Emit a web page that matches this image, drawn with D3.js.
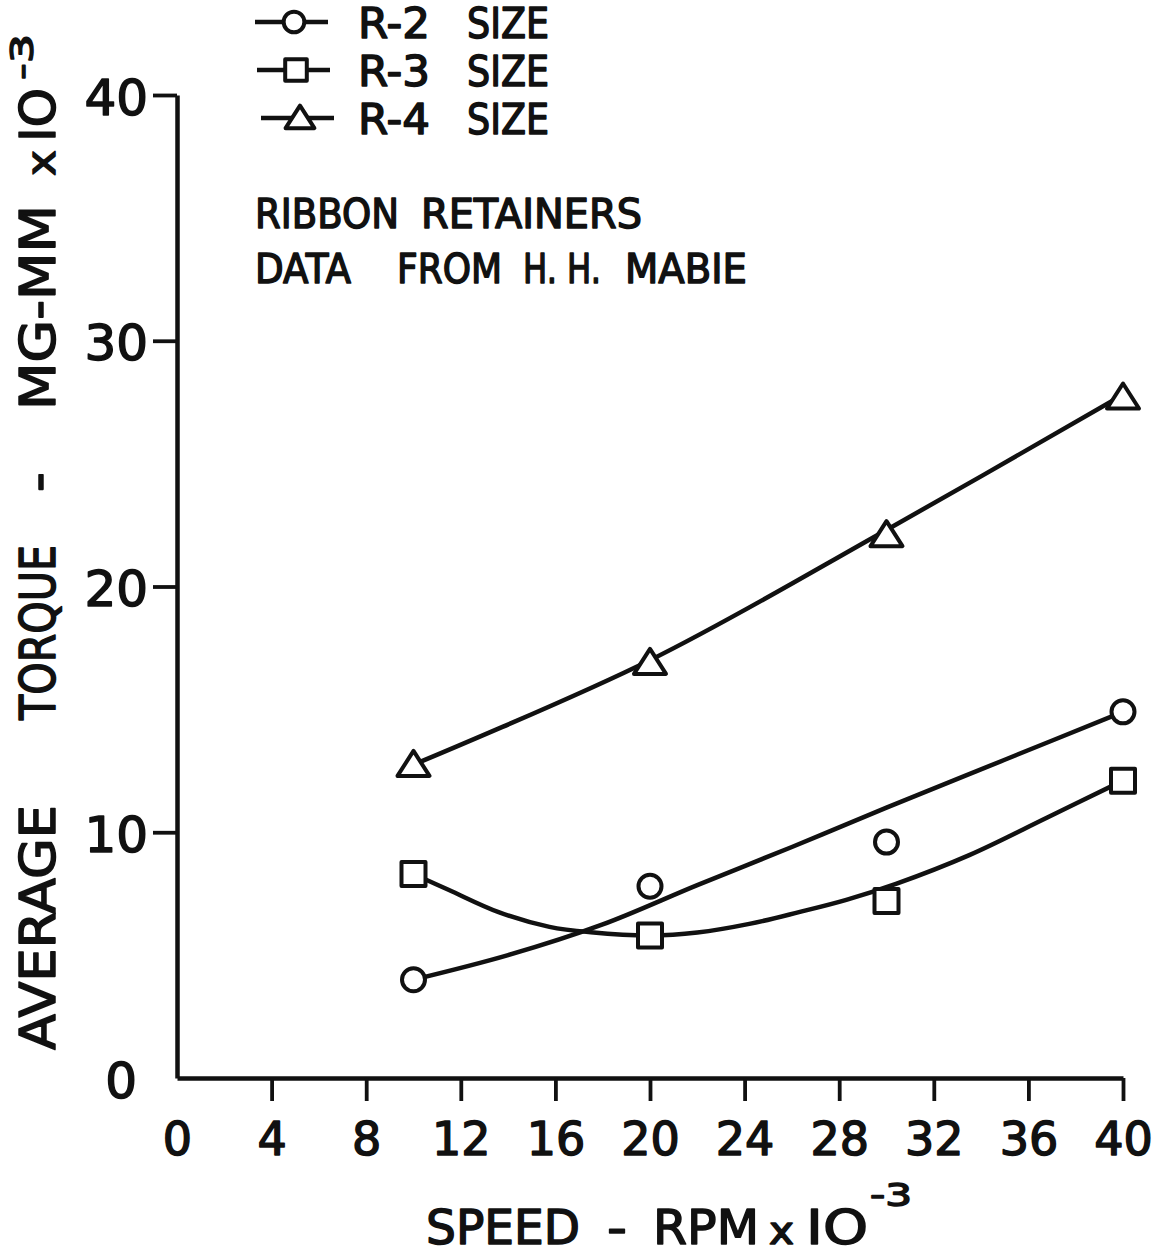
<!DOCTYPE html>
<html>
<head>
<meta charset="utf-8">
<script src="https://cdn.jsdelivr.net/npm/d3@7"></script>
<style>
  html, body { margin: 0; padding: 0; background: #fff; }
  svg { display: block; }
  text { font-family: "DejaVu Sans", sans-serif; fill: #111; stroke: #111; stroke-width: 1.5px; stroke-linejoin: round; }
</style>
</head>
<body>
<div id="vis"></div>
<script>
// chart data
const SPEED = [10, 20, 30, 40];               // rpm x 10^-3
const R2_TORQUE = [4.0, 7.8, 9.6, 14.9];      // mg-mm x 10^-3
const R3_TORQUE = [8.3, 5.8, 7.2, 12.1];
const R4_TORQUE = [12.75, 16.9, 22.1, 27.7];

// hand-faired curves as drawn on the sheet
const R2_CURVE_X = [10, 14, 18, 22, 26, 30, 35, 40];
const R2_CURVE_Y = [4.0, 5.0, 6.25, 7.85, 9.4, 11.0, 12.95, 14.9];
const R3_CURVE_X = [10, 11.5, 13.6, 15.75, 17.5, 20, 22, 24.2, 26.3, 28.3, 30.4, 33.5, 36.8, 40];
const R3_CURVE_Y = [8.3, 7.65, 6.75, 6.15, 5.93, 5.8, 5.92, 6.27, 6.75, 7.25, 7.9, 9.07, 10.6, 12.1];
const R4_CURVE_X = [10, 20, 30, 40];
const R4_CURVE_Y = [12.75, 17.0, 22.3, 27.8];

const X_TICKS = [0, 4, 8, 12, 16, 20, 24, 28, 32, 36, 40];
const Y_TICKS = [0, 10, 20, 30, 40];
const LEGEND = ["R-2", "R-3", "R-4"];

const WIDTH = 1164;
const HEIGHT = 1254;
const INK = "#111";

const svg = d3.select("#vis")
  .append("svg")
    .attr("width", WIDTH)
    .attr("height", HEIGHT);

svg.append("rect").attr("width", WIDTH).attr("height", HEIGHT).attr("fill", "#fff");

const X_SCALE = d3.scaleLinear().domain([0, 40]).range([177, 1123]);
const Y_SCALE = d3.scaleLinear().domain([0, 40]).range([1078, 95]);

// axes
const xAxis = svg.append("g")
  .attr("transform", "translate(0," + Y_SCALE(0) + ")")
  .call(d3.axisBottom(X_SCALE).tickValues(X_TICKS).tickSize(23).tickSizeOuter(0)
        .tickFormat(d => String(d)));
xAxis.select(".domain").attr("stroke", INK).attr("stroke-width", 4.5);
xAxis.selectAll(".tick line").attr("stroke", INK).attr("stroke-width", 3.8)
  .filter(d => d === 0).remove();
xAxis.selectAll(".tick text")
  .attr("y", 77).attr("dy", 0)
  .attr("font-size", 46)
  .attr("fill", INK);

const yAxis = svg.append("g")
  .attr("transform", "translate(" + X_SCALE(0) + ",0)")
  .call(d3.axisLeft(Y_SCALE).tickValues(Y_TICKS).tickSize(24).tickSizeOuter(0)
        .tickFormat(d => String(d)));
yAxis.select(".domain").attr("stroke", INK).attr("stroke-width", 4.5);
yAxis.selectAll(".tick line").attr("stroke", INK).attr("stroke-width", 3.8)
  .filter(d => d === 0).remove();
yAxis.selectAll(".tick text")
  .attr("x", d => d === 0 ? -40 : -29)
  .attr("dy", "0.38em")
  .attr("font-size", 50)
  .attr("fill", INK);

svg.selectAll(".tick text").attr("font-family", "DejaVu Sans");

// curves
const line = d3.line()
  .x(d => X_SCALE(d[0]))
  .y(d => Y_SCALE(d[1]))
  .curve(d3.curveCatmullRom.alpha(0.5));

const curves = [
  d3.zip(R2_CURVE_X, R2_CURVE_Y),
  d3.zip(R3_CURVE_X, R3_CURVE_Y),
  d3.zip(R4_CURVE_X, R4_CURVE_Y)
];

svg.selectAll(".curve")
  .data(curves)
  .enter()
  .append("path")
    .attr("class", "curve")
    .attr("d", line)
    .attr("fill", "none")
    .attr("stroke", INK)
    .attr("stroke-width", 4.5)
    .attr("stroke-linecap", "round");

// markers
function marker(g, kind, cx, cy, s) {
  if (kind === 0) {
    g.append("circle").attr("cx", cx).attr("cy", cy).attr("r", 11.5 * s);
  } else if (kind === 1) {
    g.append("rect").attr("x", cx - 12 * s).attr("y", cy - 12 * s)
      .attr("width", 24 * s).attr("height", 24 * s);
  } else {
    const w = 16 * s, h = 25 * s;
    g.append("path").attr("d",
      "M" + cx + "," + (cy - h * 0.55) +
      "L" + (cx + w) + "," + (cy + h * 0.45) +
      "L" + (cx - w) + "," + (cy + h * 0.45) + "Z");
  }
}

const seriesPts = [
  d3.zip(SPEED, R2_TORQUE),
  d3.zip(SPEED, R3_TORQUE),
  d3.zip(SPEED, R4_TORQUE)
];

const marks = svg.append("g")
  .attr("fill", "#fff")
  .attr("stroke", INK)
  .attr("stroke-width", 4)
  .attr("stroke-linejoin", "round");

seriesPts.forEach((pts, k) => {
  pts.forEach(p => marker(marks, k, X_SCALE(p[0]), Y_SCALE(p[1]), 1));
});

// legend
const LEG_ROWS = [22, 70, 118];
const LEG_SYM_X = [294, 296, 300];
const leg = svg.append("g");
LEGEND.forEach((name, i) => {
  const y = LEG_ROWS[i];
  leg.append("line")
    .attr("x1", LEG_SYM_X[i] - 39).attr("x2", LEG_SYM_X[i] + 34)
    .attr("y1", y).attr("y2", y)
    .attr("stroke", INK).attr("stroke-width", 4.5);
  const g = leg.append("g").attr("fill", "#fff").attr("stroke", INK)
    .attr("stroke-width", 4).attr("stroke-linejoin", "round");
  marker(g, i, LEG_SYM_X[i], y, 0.9);
  leg.append("text").attr("x", 358).attr("y", y + 16)
    .attr("font-size", 42).attr("textLength", 72).attr("lengthAdjust", "spacingAndGlyphs")
    .text(name);
  leg.append("text").attr("x", 467).attr("y", y + 16)
    .attr("font-size", 42).attr("textLength", 82).attr("lengthAdjust", "spacingAndGlyphs")
    .text("SIZE");
});

// notes
function label(x, y, str, size, len) {
  return svg.append("text").attr("x", x).attr("y", y)
    .attr("font-size", size)
    .attr("textLength", len).attr("lengthAdjust", "spacingAndGlyphs")
    .text(str);
}
label(255, 228, "RIBBON", 40, 144);
label(421, 228, "RETAINERS", 40, 221);
label(255, 283, "DATA", 40, 96);
label(397, 283, "FROM", 40, 105);
label(523, 283, "H. H.", 40, 78);
label(625, 283, "MABIE", 40, 122);

// x axis title
label(426, 1244, "SPEED", 48, 154);
label(607, 1244, "-", 48, 20);
label(653, 1244, "RPM", 48, 106);
label(769, 1244, "x", 38, 25);
label(806, 1244, "IO", 48, 62);
label(870, 1206, "-3", 32, 42);

// y axis title (rotated)
const yt = svg.append("g").attr("transform", "translate(55,0) rotate(-90)");
function ylabel(top, bottom, str, size, dy) {
  yt.append("text")
    .attr("x", -bottom).attr("y", dy || 0)
    .attr("font-size", size)
    .attr("textLength", bottom - top).attr("lengthAdjust", "spacingAndGlyphs")
    .text(str);
}
ylabel(805, 1050, "AVERAGE", 50);
ylabel(545, 720, "TORQUE", 50);
ylabel(472, 492, "-", 50);
ylabel(205, 410, "MG-MM", 50);
ylabel(150, 176, "x", 40);
ylabel(88, 142, "IO", 50);
ylabel(34, 80, "-3", 32, -22);
</script>
</body>
</html>
